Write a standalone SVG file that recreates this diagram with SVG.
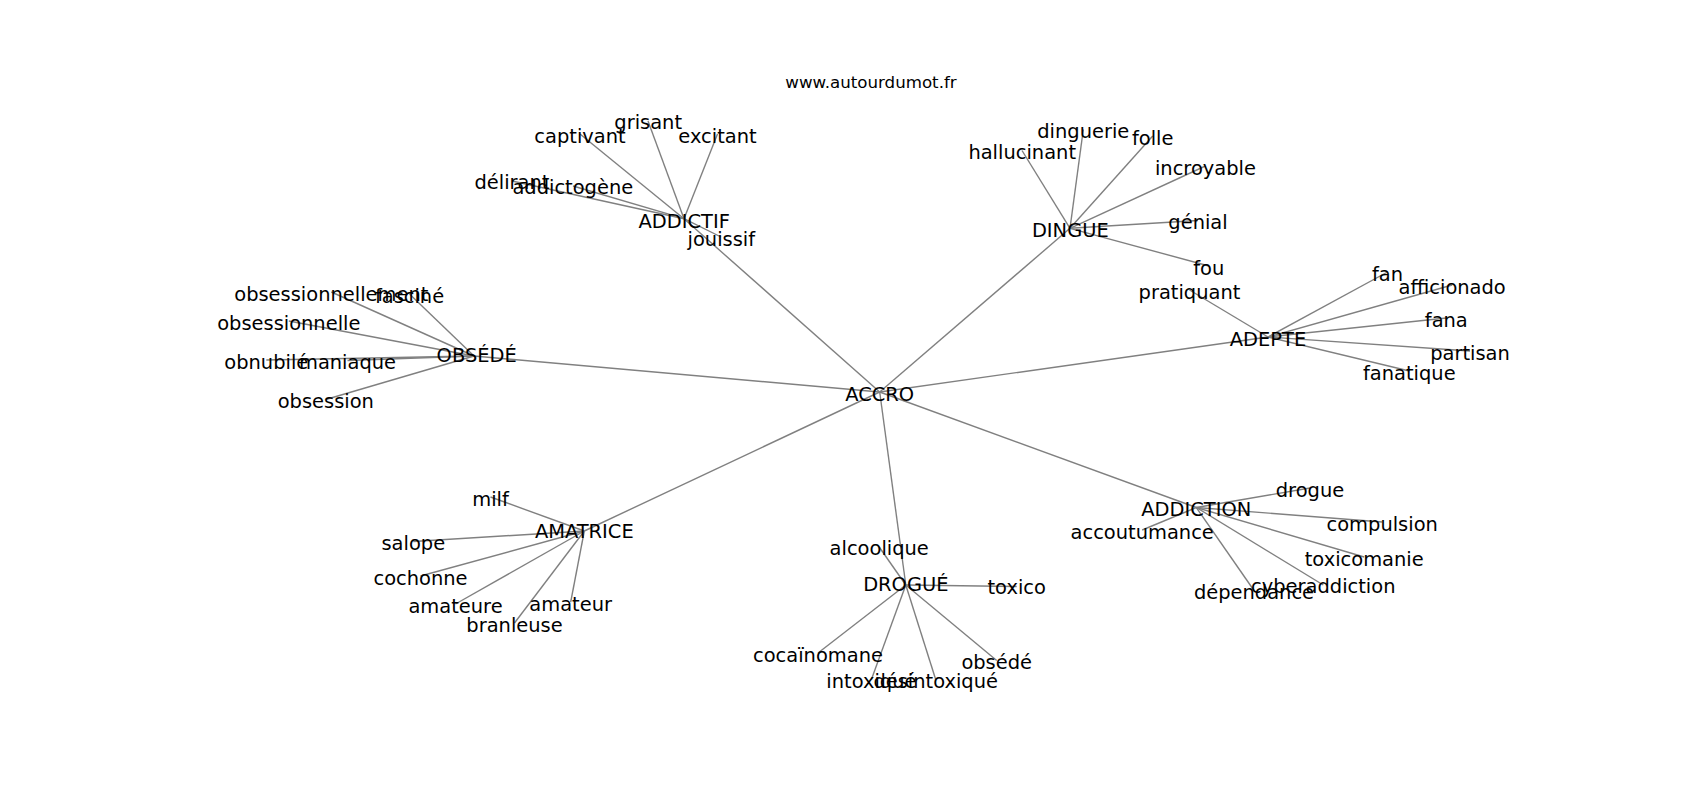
<svg xmlns="http://www.w3.org/2000/svg" width="1700" height="800" viewBox="0 0 1700 800">
<style>
.e{stroke:#808080;stroke-width:1.39;fill:none}
.t{font-family:"DejaVu Sans",sans-serif;font-size:19.44px;fill:#000;text-anchor:middle}
.h{font-family:"DejaVu Sans",sans-serif;font-size:16.67px;fill:#000;text-anchor:middle}
</style>
<rect width="1700" height="800" fill="#fff"/>
<text class="h" x="871" y="88.3">www.autourdumot.fr</text>
<g id="edges">
<line class="e" x1="879.7" y1="392" x2="684" y2="218.7"/>
<line class="e" x1="879.7" y1="392" x2="1070" y2="228.3"/>
<line class="e" x1="879.7" y1="392" x2="1268" y2="337"/>
<line class="e" x1="879.7" y1="392" x2="474" y2="356"/>
<line class="e" x1="879.7" y1="392" x2="584.3" y2="531"/>
<line class="e" x1="879.7" y1="392" x2="905.8" y2="585"/>
<line class="e" x1="879.7" y1="392" x2="1196.3" y2="507.5"/>
<line class="e" x1="684" y1="218.7" x2="580" y2="134"/>
<line class="e" x1="684" y1="218.7" x2="648" y2="121"/>
<line class="e" x1="684" y1="218.7" x2="717.5" y2="134"/>
<line class="e" x1="684" y1="218.7" x2="512" y2="181"/>
<line class="e" x1="684" y1="218.7" x2="573" y2="186"/>
<line class="e" x1="684" y1="218.7" x2="721" y2="237"/>
<line class="e" x1="1070" y1="228.3" x2="1083.3" y2="129.5"/>
<line class="e" x1="1070" y1="228.3" x2="1152.7" y2="136"/>
<line class="e" x1="1070" y1="228.3" x2="1022" y2="150.5"/>
<line class="e" x1="1070" y1="228.3" x2="1205.4" y2="166"/>
<line class="e" x1="1070" y1="228.3" x2="1198" y2="220.5"/>
<line class="e" x1="1070" y1="228.3" x2="1208.8" y2="266"/>
<line class="e" x1="1268" y1="337" x2="1189.5" y2="290"/>
<line class="e" x1="1268" y1="337" x2="1387.5" y2="272"/>
<line class="e" x1="1268" y1="337" x2="1452.2" y2="285"/>
<line class="e" x1="1268" y1="337" x2="1446.3" y2="318"/>
<line class="e" x1="1268" y1="337" x2="1470" y2="351"/>
<line class="e" x1="1268" y1="337" x2="1409.3" y2="371"/>
<line class="e" x1="474" y1="356" x2="331.3" y2="292"/>
<line class="e" x1="474" y1="356" x2="409.5" y2="294"/>
<line class="e" x1="474" y1="356" x2="288.8" y2="321"/>
<line class="e" x1="474" y1="356" x2="266.3" y2="360"/>
<line class="e" x1="474" y1="356" x2="347.5" y2="360.5"/>
<line class="e" x1="474" y1="356" x2="325.8" y2="399.5"/>
<line class="e" x1="584.3" y1="531" x2="490.5" y2="497"/>
<line class="e" x1="584.3" y1="531" x2="413.3" y2="541.5"/>
<line class="e" x1="584.3" y1="531" x2="420.5" y2="576"/>
<line class="e" x1="584.3" y1="531" x2="455.5" y2="604"/>
<line class="e" x1="584.3" y1="531" x2="570.7" y2="602"/>
<line class="e" x1="584.3" y1="531" x2="514.5" y2="623"/>
<line class="e" x1="905.8" y1="585" x2="879.2" y2="547"/>
<line class="e" x1="905.8" y1="585" x2="1016.7" y2="586.5"/>
<line class="e" x1="905.8" y1="585" x2="818" y2="653"/>
<line class="e" x1="905.8" y1="585" x2="996.7" y2="660.5"/>
<line class="e" x1="905.8" y1="585" x2="871.4" y2="679.5"/>
<line class="e" x1="905.8" y1="585" x2="935.7" y2="679.5"/>
<line class="e" x1="1196.3" y1="507.5" x2="1310" y2="488"/>
<line class="e" x1="1196.3" y1="507.5" x2="1382.2" y2="522"/>
<line class="e" x1="1196.3" y1="507.5" x2="1142.2" y2="530"/>
<line class="e" x1="1196.3" y1="507.5" x2="1364.2" y2="557"/>
<line class="e" x1="1196.3" y1="507.5" x2="1323.3" y2="585"/>
<line class="e" x1="1196.3" y1="507.5" x2="1254" y2="590.5"/>
</g>
<g id="n-accro"><text class="t" x="879.7" y="400.7">ACCRO</text></g>
<g id="n-addictif"><text class="t" x="684.2" y="227.7">ADDICTIF</text></g>
<g id="n-captivant"><text class="t" x="580" y="142.7">captivant</text></g>
<g id="n-grisant"><text class="t" x="648.2" y="129.3">grisant</text></g>
<g id="n-excitant"><text class="t" x="717.5" y="142.7">excitant</text></g>
<g id="n-delirant"><text class="t" x="512" y="189.3">délirant</text></g>
<g id="n-addictogene"><text class="t" x="572.8" y="194.3">addictogène</text></g>
<g id="n-jouissif"><text class="t" x="721.3" y="245.7">jouissif</text></g>
<g id="n-dingue"><text class="t" x="1070.3" y="237.3">DINGUE</text></g>
<g id="n-dinguerie"><text class="t" x="1083.3" y="138.3">dinguerie</text></g>
<g id="n-folle"><text class="t" x="1152.7" y="145">folle</text></g>
<g id="n-hallucinant"><text class="t" x="1022.2" y="159.3">hallucinant</text></g>
<g id="n-incroyable"><text class="t" x="1205.4" y="175">incroyable</text></g>
<g id="n-genial"><text class="t" x="1198" y="229.3">génial</text></g>
<g id="n-fou"><text class="t" x="1208.8" y="275">fou</text></g>
<g id="n-adepte"><text class="t" x="1268" y="346">ADEPTE</text></g>
<g id="n-pratiquant"><text class="t" x="1189.5" y="299">pratiquant</text></g>
<g id="n-fan"><text class="t" x="1387.5" y="281">fan</text></g>
<g id="n-afficionado"><text class="t" x="1452.2" y="294">afficionado</text></g>
<g id="n-fana"><text class="t" x="1446.3" y="326.7">fana</text></g>
<g id="n-partisan"><text class="t" x="1470" y="360">partisan</text></g>
<g id="n-fanatique"><text class="t" x="1409.3" y="380">fanatique</text></g>
<g id="n-obsede"><text class="t" x="476.7" y="361.7">OBSÉDÉ</text></g>
<g id="n-obsessionnellement"><text class="t" x="331.3" y="300.7">obsessionnellement</text></g>
<g id="n-fascine"><text class="t" x="409.5" y="303.3">fasciné</text></g>
<g id="n-obsessionnelle"><text class="t" x="288.8" y="330">obsessionnelle</text></g>
<g id="n-obnubile"><text class="t" x="266.3" y="369.3">obnubilé</text></g>
<g id="n-maniaque"><text class="t" x="347.5" y="369.3">maniaque</text></g>
<g id="n-obsession"><text class="t" x="325.8" y="408.3">obsession</text></g>
<g id="n-amatrice"><text class="t" x="584.3" y="538.3">AMATRICE</text></g>
<g id="n-milf"><text class="t" x="490.5" y="506">milf</text></g>
<g id="n-salope"><text class="t" x="413.3" y="550">salope</text></g>
<g id="n-cochonne"><text class="t" x="420.5" y="585">cochonne</text></g>
<g id="n-amateure"><text class="t" x="455.5" y="612.7">amateure</text></g>
<g id="n-amateur"><text class="t" x="570.7" y="610.7">amateur</text></g>
<g id="n-branleuse"><text class="t" x="514.5" y="631.7">branleuse</text></g>
<g id="n-drogue-node"><text class="t" x="905.8" y="591">DROGUÉ</text></g>
<g id="n-alcoolique"><text class="t" x="879.2" y="555">alcoolique</text></g>
<g id="n-toxico"><text class="t" x="1016.7" y="593.5">toxico</text></g>
<g id="n-cocainomane"><text class="t" x="818" y="661.7">cocaïnomane</text></g>
<g id="n-obsede2"><text class="t" x="996.7" y="669.3">obsédé</text></g>
<g id="n-intoxique"><text class="t" x="871.4" y="688.3">intoxiqué</text></g>
<g id="n-desintoxique"><text class="t" x="935.7" y="688.3">désintoxiqué</text></g>
<g id="n-addiction"><text class="t" x="1196.3" y="515.7">ADDICTION</text></g>
<g id="n-drogue"><text class="t" x="1310" y="496.7">drogue</text></g>
<g id="n-compulsion"><text class="t" x="1382.2" y="531">compulsion</text></g>
<g id="n-accoutumance"><text class="t" x="1142.2" y="539">accoutumance</text></g>
<g id="n-toxicomanie"><text class="t" x="1364.2" y="565.7">toxicomanie</text></g>
<g id="n-cyberaddiction"><text class="t" x="1323.3" y="592.7">cyberaddiction</text></g>
<g id="n-dependance"><text class="t" x="1254" y="599.3">dépendance</text></g>
</svg>
